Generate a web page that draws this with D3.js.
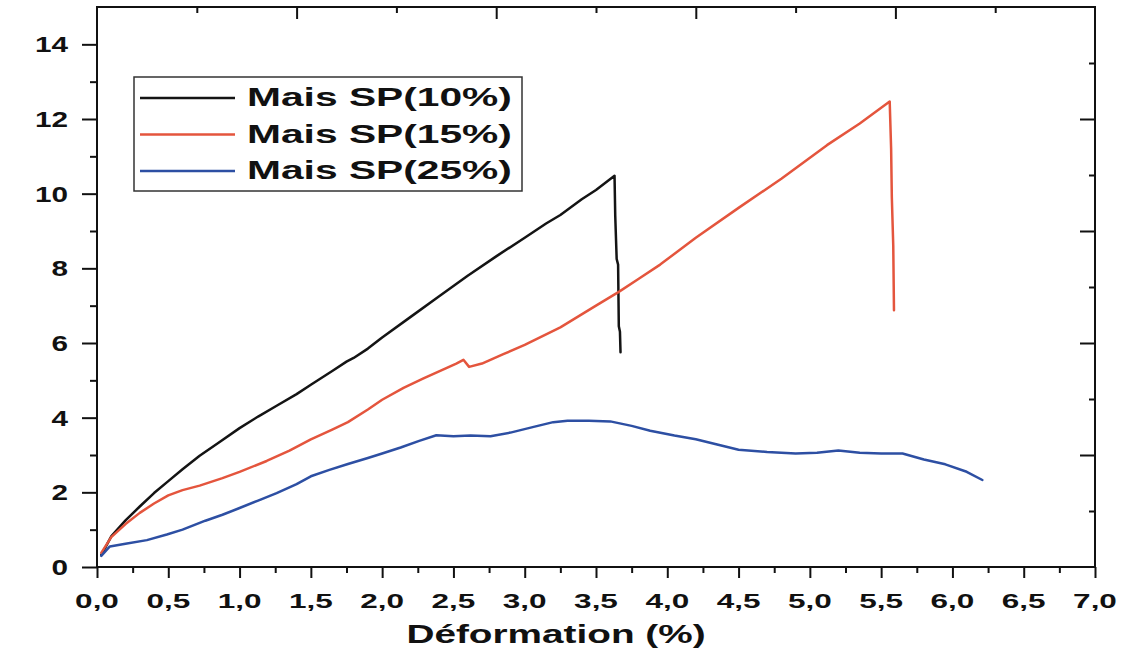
<!DOCTYPE html>
<html>
<head>
<meta charset="utf-8">
<script src="https://cdn.jsdelivr.net/npm/d3@7"></script>
<style>
  html, body { margin: 0; padding: 0; background: #fff; }
  svg { display: block; }
  text { font-family: "Liberation Sans", Arial, sans-serif; font-weight: bold; fill: #111; }
</style>
</head>
<body>
<svg id="chart" width="1130" height="652"></svg>
<script>
// Stress–strain curves, strain in %, stress read on the left axis
const seriesNames = ["Mais SP(10%)", "Mais SP(15%)", "Mais SP(25%)"];
const seriesColors = ["#141414", "#e4553d", "#2d4fa3"];

const sp10 = [
  [0.03, 0.32], [0.1, 0.82], [0.2, 1.25], [0.3, 1.62], [0.4, 1.98], [0.5, 2.3], [0.6, 2.62],
  [0.72, 2.98], [0.85, 3.32], [1.0, 3.72], [1.13, 4.03], [1.26, 4.32], [1.4, 4.63],
  [1.5, 4.88], [1.65, 5.25], [1.75, 5.5], [1.8, 5.6], [1.9, 5.85], [2.0, 6.15],
  [2.2, 6.7], [2.4, 7.25], [2.6, 7.8], [2.8, 8.32], [3.0, 8.82], [3.15, 9.2],
  [3.25, 9.43], [3.4, 9.85], [3.5, 10.1], [3.63, 10.48], [3.635, 9.4], [3.645, 8.25],
  [3.655, 8.1], [3.66, 6.45], [3.668, 6.3], [3.672, 5.75]
];

const sp15 = [
  [0.03, 0.38], [0.1, 0.8], [0.2, 1.15], [0.3, 1.45], [0.4, 1.7], [0.5, 1.92], [0.6, 2.06],
  [0.72, 2.18], [0.88, 2.38], [1.0, 2.55], [1.19, 2.84], [1.35, 3.12], [1.5, 3.42],
  [1.65, 3.68], [1.76, 3.88], [1.9, 4.22], [2.0, 4.48], [2.15, 4.8], [2.29, 5.05],
  [2.45, 5.33], [2.52, 5.45], [2.57, 5.55], [2.61, 5.36], [2.7, 5.45], [2.85, 5.7],
  [3.0, 5.95], [3.25, 6.42], [3.5, 7.0], [3.66, 7.37], [3.8, 7.72], [3.95, 8.1],
  [4.2, 8.82], [4.5, 9.62], [4.8, 10.4], [5.12, 11.3], [5.35, 11.88], [5.56, 12.47],
  [5.57, 11.2], [5.575, 9.9], [5.585, 8.6], [5.59, 6.88]
];

const sp25 = [
  [0.03, 0.3], [0.09, 0.55], [0.2, 0.62], [0.35, 0.72], [0.49, 0.87], [0.6, 1.0],
  [0.76, 1.24], [0.88, 1.4], [1.0, 1.58], [1.13, 1.78], [1.26, 1.98], [1.4, 2.22],
  [1.5, 2.43], [1.63, 2.6], [1.76, 2.76], [1.9, 2.92], [2.0, 3.04], [2.13, 3.2],
  [2.26, 3.38], [2.38, 3.53], [2.5, 3.5], [2.62, 3.52], [2.76, 3.5], [2.9, 3.6],
  [3.07, 3.76], [3.2, 3.88], [3.3, 3.92], [3.45, 3.92], [3.6, 3.9], [3.75, 3.78],
  [3.88, 3.65], [4.05, 3.52], [4.2, 3.42], [4.35, 3.28], [4.5, 3.14], [4.7, 3.08],
  [4.9, 3.04], [5.05, 3.06], [5.2, 3.12], [5.35, 3.06], [5.5, 3.04], [5.65, 3.04],
  [5.8, 2.88], [5.95, 2.75], [6.1, 2.55], [6.21, 2.33]
];

const seriesData = [sp10, sp15, sp25];

const xTickValues = d3.range(0, 7.01, 0.5);
const xMinorValues = d3.range(0.25, 7, 0.5);
const yTickValues = [0, 2, 4, 6, 8, 10, 12, 14];
const yMinorValues = [1, 3, 5, 7, 9, 11, 13];
const xAxisTitle = "Déformation (%)";

const svg = d3.select("#chart");
const plotL = 97, plotR = 1095, plotT = 7, plotB = 567;

const x = d3.scaleLinear().domain([0, 7]).range([plotL, plotR]);
const y = d3.scaleLinear().domain([0, 15]).range([plotB, plotT]);
// mirrored frame axes carry their own evenly spaced ticks
const xTop = d3.scaleLinear().domain([0, 10]).range([plotL, plotR]);
const yRight = d3.scaleLinear().domain([0, 10]).range([plotB, plotT]);

const fmt = d => d3.format(".1f")(d).replace(".", ",");

// horizontally widened bold text
function wideText(g, str, px, py, size, sx, anchor) {
  return g.append("text")
    .attr("transform", `translate(${px},${py}) scale(${sx},1)`)
    .attr("text-anchor", anchor)
    .attr("font-size", size)
    .text(str);
}

// curves
const line = d3.line().x(d => x(d[0])).y(d => y(d[1]));
seriesData.forEach((data, i) => {
  svg.append("path")
    .datum(data)
    .attr("d", line)
    .attr("fill", "none")
    .attr("stroke", seriesColors[i])
    .attr("stroke-width", 2.5)
    .attr("stroke-linejoin", "round")
    .attr("stroke-linecap", "round");
});

// bottom axis
const gx = svg.append("g").attr("transform", `translate(0,${plotB})`);
gx.call(d3.axisBottom(x).tickValues(xTickValues).tickSize(11).tickFormat(""));
gx.append("g").call(d3.axisBottom(x).tickValues(xMinorValues).tickSize(6).tickFormat(""));
xTickValues.forEach(v => wideText(gx, fmt(v), x(v), 41, 21, 1.5, "middle"));

// left axis
const gy = svg.append("g").attr("transform", `translate(${plotL},0)`);
gy.call(d3.axisLeft(y).tickValues(yTickValues).tickSize(15).tickFormat(""));
gy.append("g").call(d3.axisLeft(y).tickValues(yMinorValues).tickSize(7).tickFormat(""));
yTickValues.forEach(v => wideText(gy, String(v), -29, y(v) + 8, 22, 1.35, "end"));

// top mirror axis (ticks inward)
const gt = svg.append("g").attr("transform", `translate(0,${plotT})`);
gt.call(d3.axisBottom(xTop).tickValues([2, 4, 6, 8]).tickSize(12).tickFormat(""));
gt.append("g").call(d3.axisBottom(xTop).tickValues([1, 3, 5, 7, 9]).tickSize(6).tickFormat(""));

// right mirror axis (ticks inward)
const gr = svg.append("g").attr("transform", `translate(${plotR},0)`);
gr.call(d3.axisLeft(yRight).tickValues([2, 4, 6, 8]).tickSize(15).tickFormat(""));
gr.append("g").call(d3.axisLeft(yRight).tickValues([1, 3, 5, 7, 9]).tickSize(6).tickFormat(""));

svg.selectAll(".domain").remove();
svg.selectAll(".tick line").attr("stroke", "#111").attr("stroke-width", 2);

// frame
svg.append("rect")
  .attr("x", plotL).attr("y", plotT)
  .attr("width", plotR - plotL).attr("height", plotB - plotT)
  .attr("fill", "none").attr("stroke", "#111").attr("stroke-width", 2);

// axis title
wideText(svg, xAxisTitle, 556, 643, 25, 1.55, "middle");

// legend
const lg = svg.append("g");
lg.append("rect")
  .attr("x", 134).attr("y", 77).attr("width", 388).attr("height", 114)
  .attr("fill", "#fff").attr("stroke", "#333").attr("stroke-width", 1.5);
seriesNames.forEach((name, i) => {
  const ly = 98 + i * 36.5;
  lg.append("line")
    .attr("x1", 140).attr("x2", 235).attr("y1", ly).attr("y2", ly)
    .attr("stroke", seriesColors[i]).attr("stroke-width", 2.6);
  wideText(lg, name, 247, ly + 8, 25, 1.63, "start");
});
</script>
</body>
</html>
